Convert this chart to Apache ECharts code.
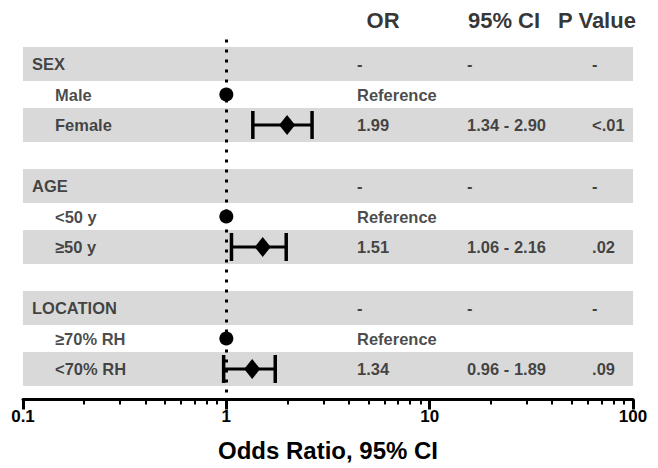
<!DOCTYPE html>
<html>
<head>
<meta charset="utf-8">
<script src="https://cdn.jsdelivr.net/npm/echarts@6/dist/echarts.min.js"></script>
<style>
html,body{margin:0;padding:0;background:#fff;}
#chart{width:658px;height:468px;}
</style>
</head>
<body>
<div id="chart"></div>
<script>
// ---------- data ----------
const groups = ['SEX', 'AGE', 'LOCATION'];
const refLevels = ['Male', '<50 y', '≥70% RH'];
const cmpLevels = ['Female', '≥50 y', '<70% RH'];
const orLabels = ['1.99', '1.51', '1.34'];
const ciLabels = ['1.34 - 2.90', '1.06 - 2.16', '0.96 - 1.89'];
const pLabels = ['<.01', '.02', '.09'];
const headers = ['OR', '95% CI', 'P Value'];
const orValues = [1.99, 1.51, 1.34];
const ciLower = [1.35, 1.06, 0.97];
const ciUpper = [2.64, 1.97, 1.74];
const refValue = 1;
const axisMin = 0.1, axisMax = 100;
const minorTickValues = [0.2,0.3,0.4,0.5,0.6,0.7,0.8,0.9,2,3,4,5,6,7,8,9,20,30,40,50,60,70,80,90];
const axisTitle = 'Odds Ratio, 95% CI';

// ---------- layout (axis units) ----------
const colGroup = 0.1107, colLevel = 0.1437, colOR = 4.39, colCI = 15.28, colP = 62.9;
const headerX = [5.9, 23.2, 66.5];
const headerRow = -1.44;
const bandHalf = 0.56;

const rowHeader = g => 4 * g, rowRef = g => 4 * g + 1, rowCmp = g => 4 * g + 2;

const FONT = 'Liberation Sans, Arial, sans-serif';
const textColor = '#1a1a1a';

// bands rows
const bandRows = [];
groups.forEach((g, i) => { bandRows.push([rowHeader(i)]); bandRows.push([rowCmp(i)]); });

// texts
const leftTexts = [];
groups.forEach((g, i) => {
  leftTexts.push({ name: g, value: [colGroup, rowHeader(i)] });
  leftTexts.push({ name: refLevels[i], value: [colLevel, rowRef(i)] });
  leftTexts.push({ name: cmpLevels[i], value: [colLevel, rowCmp(i)] });
  leftTexts.push({ name: '-', value: [colOR, rowHeader(i)] });
  leftTexts.push({ name: '-', value: [colCI, rowHeader(i)] });
  leftTexts.push({ name: '-', value: [colP, rowHeader(i)] });
  leftTexts.push({ name: 'Reference', value: [colOR, rowRef(i)] });
  leftTexts.push({ name: orLabels[i], value: [colOR, rowCmp(i)] });
  leftTexts.push({ name: ciLabels[i], value: [colCI, rowCmp(i)] });
  leftTexts.push({ name: pLabels[i], value: [colP, rowCmp(i)] });
});
const headerTexts = headers.map((h, i) => ({ name: h, value: [headerX[i], headerRow] }));

const refPoints = groups.map((g, i) => [refValue, rowRef(i)]);
const orPoints = groups.map((g, i) => [orValues[i], rowCmp(i)]);
const ciData = groups.map((g, i) => [ciLower[i], ciUpper[i], rowCmp(i)]);

const chart = echarts.init(document.getElementById('chart'), null, { renderer: 'svg' });
chart.setOption({
  animation: false,
  grid: { left: 23, right: 25, top: 39.6, bottom: 68.5 },
  xAxis: [{
    type: 'log', logBase: 10, min: axisMin, max: axisMax, position: 'bottom',
    axisLine: { onZero: false, lineStyle: { color: '#000', width: 3 } },
    axisTick: { length: 10, lineStyle: { color: '#000', width: 3 } },
    axisLabel: { color: '#000', fontSize: 17, fontWeight: 'bold', fontFamily: FONT, margin: 8 },
    splitLine: { show: false },
    name: axisTitle, nameLocation: 'middle', nameGap: 39,
    nameTextStyle: { color: '#000', fontSize: 24, fontWeight: 'bold', fontFamily: FONT }
  }, {
    type: 'log', logBase: 10, min: axisMin, max: axisMax, position: 'bottom',
    axisLine: { show: false, onZero: false },
    axisTick: { show: true, customValues: minorTickValues, length: 5, lineStyle: { color: '#000', width: 2 } },
    axisLabel: { show: false },
    splitLine: { show: false }
  }],
  yAxis: { type: 'value', min: -0.8, max: 11, inverse: true, show: false },
  series: [{
    type: 'custom', z: 1, silent: true,
    data: bandRows,
    encode: { y: 0 },
    renderItem: function (params, api) {
      const cs = params.coordSys;
      const row = api.value(0);
      const y1 = api.coord([1, row - bandHalf])[1];
      const y2 = api.coord([1, row + bandHalf])[1];
      return { type: 'rect', shape: { x: cs.x, y: Math.min(y1, y2), width: cs.width, height: Math.abs(y2 - y1) },
               style: { fill: '#d9d9d9' } };
    }
  }, {
    type: 'custom', z: 3, silent: true,
    data: ciData,
    encode: { x: [0, 1], y: 2 },
    renderItem: function (params, api) {
      const row = api.value(2);
      const p1 = api.coord([api.value(0), row]);
      const p2 = api.coord([api.value(1), row]);
      const h = 14;
      const st = { stroke: '#000', lineWidth: 3.5 };
      return { type: 'group', children: [
        { type: 'line', shape: { x1: p1[0], y1: p1[1], x2: p2[0], y2: p2[1] }, style: { stroke: '#000', lineWidth: 3 } },
        { type: 'line', shape: { x1: p1[0], y1: p1[1] - h, x2: p1[0], y2: p1[1] + h }, style: st },
        { type: 'line', shape: { x1: p2[0], y1: p2[1] - h, x2: p2[0], y2: p2[1] + h }, style: st }
      ] };
    },
    markLine: {
      silent: true, symbol: 'none', z: 2,
      label: { show: false },
      lineStyle: { color: '#000', width: 3, type: [3, 7] },
      data: [{ xAxis: refValue }]
    }
  }, {
    type: 'scatter', z: 4, silent: true,
    data: refPoints, symbol: 'circle', symbolSize: 14,
    itemStyle: { color: '#000', opacity: 1 }
  }, {
    type: 'scatter', z: 4, silent: true,
    data: orPoints, symbol: 'diamond', symbolSize: [16, 20],
    itemStyle: { color: '#000', opacity: 1 }
  }, {
    type: 'scatter', z: 5, silent: true, clip: false,
    data: leftTexts, symbolSize: 0,
    label: { show: true, position: 'inside', align: 'left', verticalAlign: 'middle', formatter: '{b}',
             color: textColor, fontSize: 16.5, fontWeight: 'bold', fontFamily: FONT }
  }, {
    type: 'scatter', z: 5, silent: true, clip: false,
    data: headerTexts, symbolSize: 0,
    label: { show: true, position: 'inside', align: 'center', verticalAlign: 'middle', formatter: '{b}',
             color: '#000', fontSize: 22, fontWeight: 'bold', fontFamily: FONT }
  }]
});
</script>
</body>
</html>
